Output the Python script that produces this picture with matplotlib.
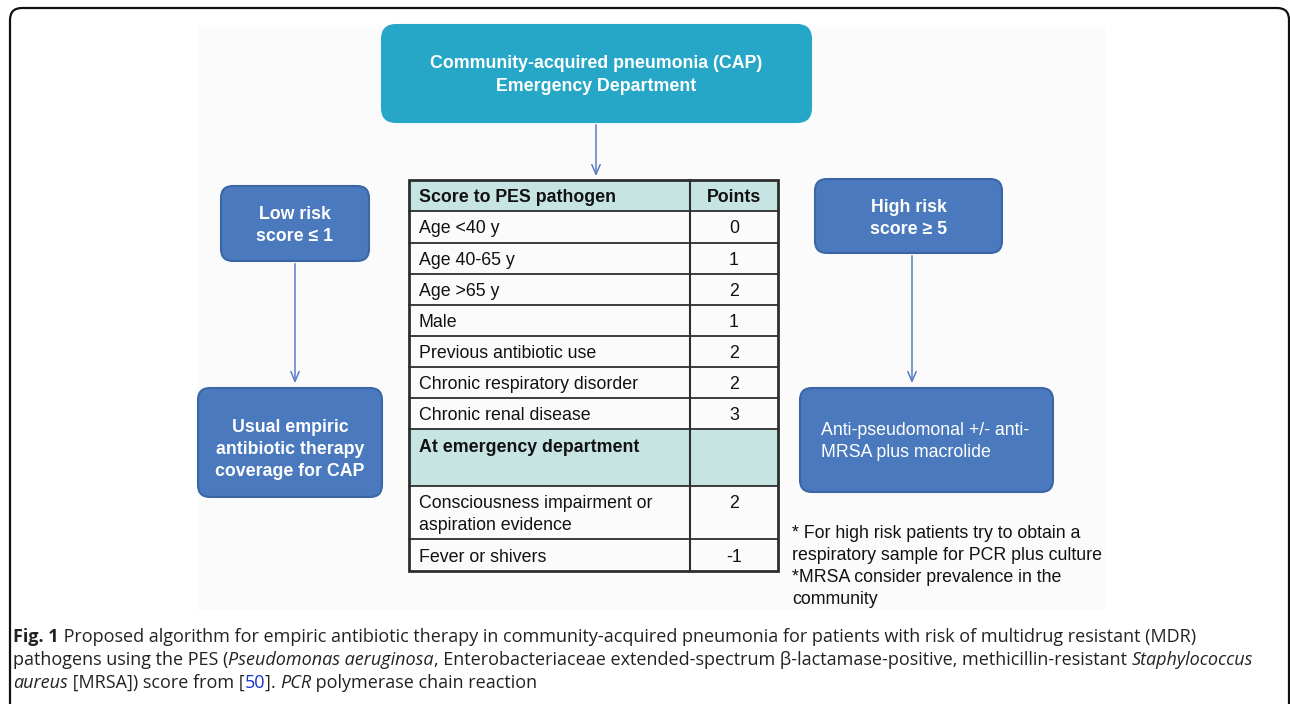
import matplotlib
matplotlib.use('Agg')
import matplotlib.pyplot as plt
from matplotlib.patches import FancyBboxPatch, Rectangle
from matplotlib.font_manager import FontProperties

# ---- data ----
top_label = ['Community-acquired pneumonia (CAP)', 'Emergency Department']
low_label = ['Low risk', 'score \u2264 1']
low_action = ['Usual empiric', 'antibiotic therapy', 'coverage for CAP']
high_label = ['High risk', 'score \u2265 5']
high_action = ['Anti-pseudomonal +/- anti-', 'MRSA plus macrolide']

table_header = ['Score to PES pathogen', 'Points']
base_factors = ['Age <40 y', 'Age 40-65 y', 'Age >65 y', 'Male',
                'Previous antibiotic use', 'Chronic respiratory disorder',
                'Chronic renal disease']
base_points = ['0', '1', '2', '1', '2', '2', '3']
ed_title = 'At emergency department'
ed_factors = [['Consciousness impairment or', 'aspiration evidence'], ['Fever or shivers']]
ed_points = ['2', '-1']

notes = ['* For high risk patients try to obtain a',
         'respiratory sample for PCR plus culture',
         '*MRSA consider prevalence in the',
         'community']

caption_lines = [
    [('Fig. 1', 'bold'),
     (' Proposed algorithm for empiric antibiotic therapy in community-acquired pneumonia for patients with risk of multidrug resistant (MDR)', 'normal')],
    [('pathogens using the PES (', 'normal'), ('Pseudomonas aeruginosa', 'italic'),
     (', Enterobacteriaceae extended-spectrum \u03b2-lactamase-positive, methicillin-resistant ', 'normal'),
     ('Staphylococcus', 'italic')],
    [('aureus', 'italic'), (' [MRSA]) score from [', 'normal'), ('50', 'link'),
     (']. ', 'normal'), ('PCR', 'italic'), (' polymerase chain reaction', 'normal')],
]

# ---- style ----
SANS = ['Liberation Sans', 'DejaVu Sans']
CAP = ['Open Sans', 'DejaVu Sans']
teal = '#27a7c7'
blue = '#4a7abd'
blue_edge = '#3a66a6'
arrow_c = '#5b7cc4'
head_fill = '#c6e4e1'
grid_c = '#2e2e2e'
ink = '#111111'

fig = plt.figure(figsize=(12.9, 7.04), dpi=100)
ax = fig.add_axes([0, 0, 1, 1])
ax.set_xlim(0, 1290)
ax.set_ylim(704, 0)
ax.axis('off')

# outer frame
ax.add_patch(FancyBboxPatch((10, 8), 1279, 740, boxstyle='round,pad=0,rounding_size=12',
                            fc='white', ec='#111111', lw=1.6, clip_on=True))
ax.add_patch(Rectangle((197, 25), 908, 585, fc='#fbfbfb', ec='none'))

BFS = 12.8


def box(x0, y0, x1, y1, color, edge, lines, ys, bold=True, xtext=None, r=12):
    ax.add_patch(FancyBboxPatch((x0, y0), x1 - x0, y1 - y0,
                                boxstyle='round,pad=0,rounding_size=%d' % r,
                                fc=color, ec=edge, lw=1.5))
    for s, y in zip(lines, ys):
        x = (x0 + x1) / 2 if xtext is None else xtext
        ax.text(x, y, s, ha='center' if xtext is None else 'left', va='baseline',
                color='white', fontsize=BFS, fontweight='bold' if bold else 'normal',
                family=SANS)


def arrow(x, y0, y1):
    ax.annotate('', xy=(x, y1), xytext=(x, y0),
                arrowprops=dict(arrowstyle='->,head_length=0.7,head_width=0.3',
                                color=arrow_c, lw=1.1))


box(382, 25, 811, 122, teal, teal, top_label, [68.5, 91], r=14)
box(221, 186, 369, 261, blue, blue_edge, low_label, [219, 241])
box(198, 388, 382, 497, blue, blue_edge, low_action, [431.5, 453.5, 475.5])
box(815, 179, 1002, 253, blue, blue_edge, high_label, [211.5, 233.5])
box(800, 388, 1053, 492, blue, blue_edge, high_action, [435, 457], bold=False, xtext=821)

arrow(596, 122, 179)
arrow(295, 261, 386)
arrow(912, 253, 386)

# ---- table ----
tx0, tsplit, tx1 = 409, 690, 778
rows = [179.5, 211, 242.7, 273.5, 304.5, 335.7, 366.7, 398, 429.3, 486, 539.3, 571]
ax.add_patch(Rectangle((tx0, rows[0]), tx1 - tx0, rows[1] - rows[0], fc=head_fill, ec='none'))
ax.add_patch(Rectangle((tx0, rows[8]), tx1 - tx0, rows[9] - rows[8], fc=head_fill, ec='none'))
for y in rows[1:-1]:
    ax.plot([tx0, tx1], [y, y], color=grid_c, lw=1.3)
ax.plot([tsplit, tsplit], [rows[0], rows[-1]], color=grid_c, lw=1.5)
ax.add_patch(Rectangle((tx0, rows[0]), tx1 - tx0, rows[-1] - rows[0], fc='none', ec=grid_c, lw=2))

tfs = 12.8
lx = 419
px = 734


def cell(x, y, s, bold=False, ha='left'):
    ax.text(x, y, s, fontsize=tfs, fontweight='bold' if bold else 'normal',
            va='baseline', ha=ha, family=SANS, color=ink)


hy = (rows[0] + rows[1]) / 2 + 6.5
cell(lx, hy, table_header[0], bold=True)
cell(px, hy, table_header[1], bold=True, ha='center')
for i, (f, p) in enumerate(zip(base_factors, base_points)):
    yb = (rows[i + 1] + rows[i + 2]) / 2 + 6.5
    cell(lx, yb, f)
    cell(px, yb, p, ha='center')
cell(lx, 451.5, ed_title, bold=True)
for j, yb in enumerate([508.3, 529.5]):
    cell(lx, yb, ed_factors[0][j])
cell(px, 508.3, ed_points[0], ha='center')
cell(lx, 561.5, ed_factors[1][0])
cell(px, 561.5, ed_points[1], ha='center')

# ---- notes ----
for i, s in enumerate(notes):
    ax.text(792, 538.5 + 21.7 * i, s, fontsize=12.8, va='baseline', family=SANS, color=ink)

# ---- caption with mixed styles ----
renderer = fig.canvas.get_renderer()


def fprops(style, size):
    fp = FontProperties(family=CAP, size=size)
    if style == 'bold':
        fp.set_weight('bold')
    if style == 'italic':
        fp.set_style('italic')
    return fp


def width(s, fp):
    w1, _, _ = renderer.get_text_width_height_descent(s + '|', fp, ismath=False)
    w2, _, _ = renderer.get_text_width_height_descent('|', fp, ismath=False)
    return w1 - w2


ref = 10
targets = [1234, 1240]
sizes = []
for parts, tw in zip(caption_lines[:2], targets):
    w = sum(width(s, fprops(st, ref)) for s, st in parts)
    sizes.append(ref * tw / w)
cap_size = min(sizes)
cap_ys = [642, 665, 688]
for parts, yb in zip(caption_lines, cap_ys):
    x = 13
    for s, st in parts:
        fp = fprops(st, cap_size)
        col = '#1a33cc' if st == 'link' else '#222222'
        ax.text(x, yb, s, fontproperties=fp, color=col, va='baseline', ha='left')
        x += width(s, fp)

fig.savefig('out.png', dpi=100)
